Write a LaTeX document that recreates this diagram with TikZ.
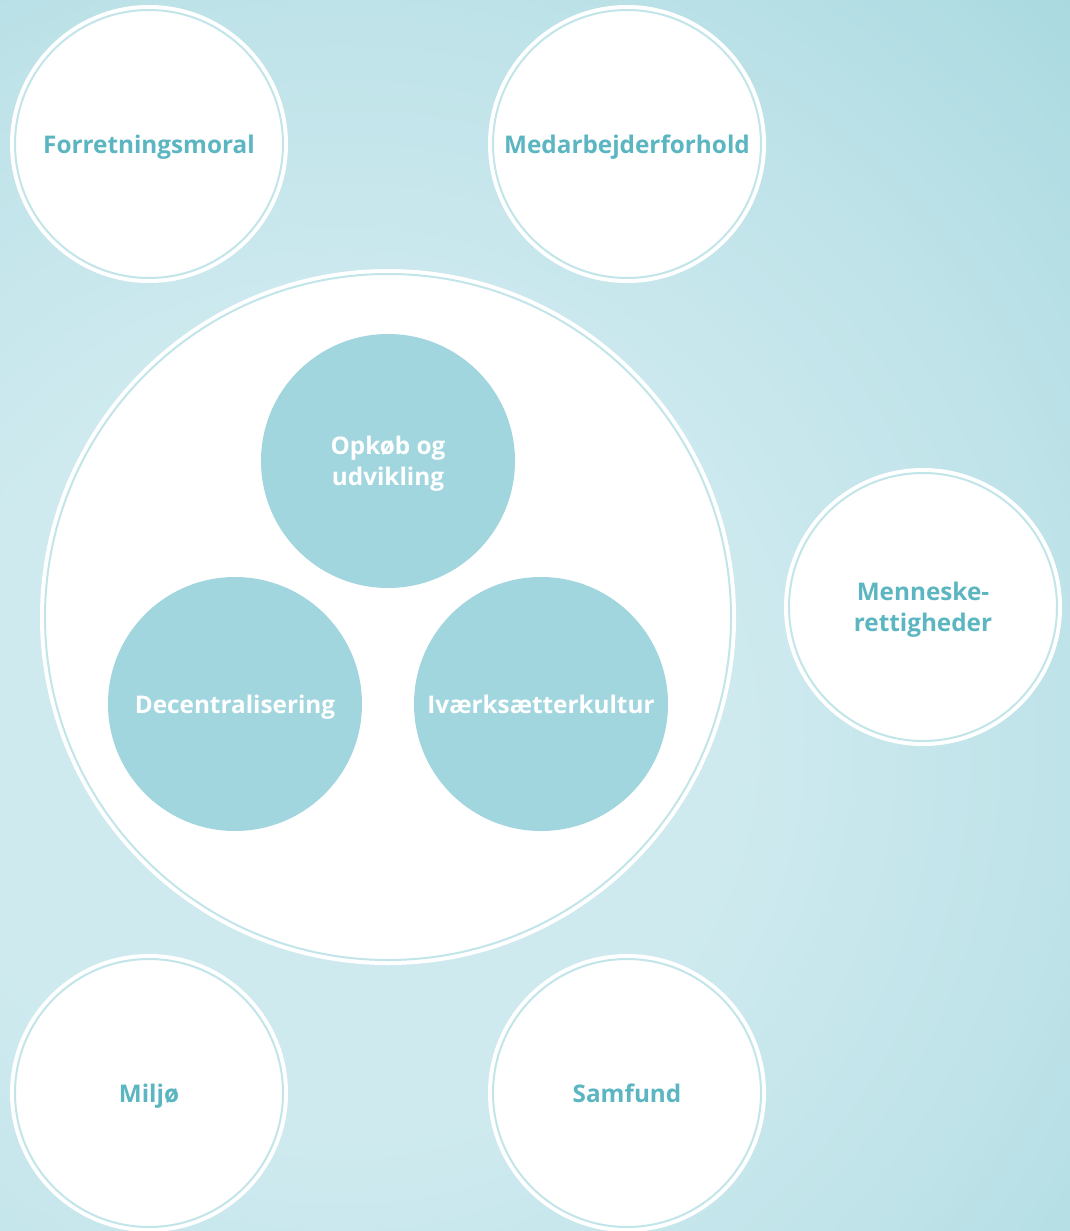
\documentclass[tikz,border=0pt]{standalone}
\usepackage{fontspec}
\setmainfont{Open Sans}
\definecolor{bglight}{HTML}{CEEAEF}
\definecolor{bgdark}{HTML}{A9D9E0}
\definecolor{ringblue}{HTML}{C2E5EA}
\definecolor{corefill}{HTML}{A2D6DE}
\definecolor{labelblue}{HTML}{5BB6C1}
\pgfdeclareradialshading{bgglow}{\pgfpoint{0bp}{0bp}}{color(0bp)=(bglight); color(9bp)=(bglight); color(17bp)=(bglight!55!bgdark); color(24bp)=(bgdark); color(50bp)=(bgdark)}

\begin{document}
\begin{tikzpicture}[x=1pt,y=-1pt,
    theme/.style={circle,inner sep=0pt,minimum size=268pt,fill=white,draw=ringblue,line width=2pt,
      preaction={draw=white,line width=10pt},text=labelblue,align=center,text depth=0pt,
      font=\bfseries\fontsize{24.3}{31}\selectfont},
    core/.style={circle,inner sep=0pt,minimum size=254pt,fill=corefill,text=white,align=center,
      text depth=0pt,font=\bfseries\fontsize{24.3}{31}\selectfont}]
  \useasboundingbox (0,0) rectangle (1070,1231);
  \begin{scope}
    \clip (0,0) rectangle (1070,1231);
    \fill[bgdark] (0,0) rectangle (1070,1231);
    \shade[shading=bgglow] (340,740) circle (1100);
  \end{scope}

  \node[theme] (moral) at (149,144) {Forretningsmoral};
  \node[theme] (staff) at (627,144) {Medarbejderforhold};
  \node[theme] (rights) at (923,607) {Menneske-\\rettigheder};
  \node[theme] (env) at (149,1093) {Miljø};
  \node[theme] (society) at (627,1093) {Samfund};

  \node[theme,minimum size=686pt] (hub) at (388,617) {};
  \node[core] (buy) at (388,461) {Opkøb og\\udvikling};
  \node[core] (decent) at (235,704) {Decentralisering};
  \node[core] (venture) at (541,704) {Iværksætterkultur};
\end{tikzpicture}
\end{document}
